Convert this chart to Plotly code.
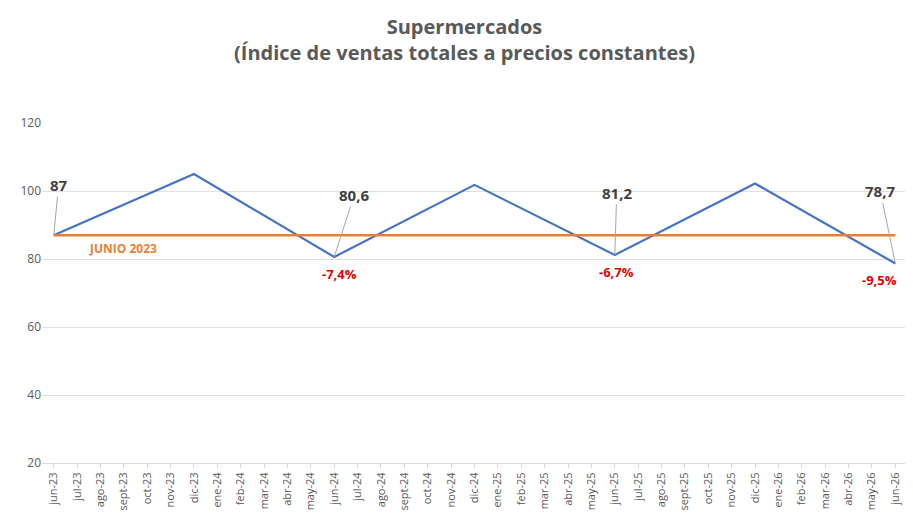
import plotly.graph_objects as go

MONTHS = ["ene", "feb", "mar", "abr", "may", "jun", "jul", "ago", "sept", "oct", "nov", "dic"]
categories = []
for year in [23, 24, 25, 26]:
    for m in MONTHS:
        categories.append(f"{m}-{year}")
categories = categories[5:categories.index("jun-26") + 1]

# observed vertices of the index series (straight segments between them)
vertex_months = ["jun-23", "dic-23", "jun-24", "dic-24", "jun-25", "dic-25", "jun-26"]
vertex_values = [87, 105, 80.6, 101.8, 81.2, 102.2, 78.7]
base_value = 87

label_months = ["jun-23", "jun-24", "jun-25", "jun-26"]
label_values = [87, 80.6, 81.2, 78.7]
label_texts = ["87", "80,6", "81,2", "78,7"]
label_offsets = [(5, -50), (20, -62), (2, -62), (-15, -72)]
change_months = ["jun-24", "jun-25", "jun-26"]
change_values = [80.6, 81.2, 78.7]
change_texts = ["-7,4%", "-6,7%", "-9,5%"]
change_xshift = [5, 2, -16]

vmap = dict(zip(vertex_months, vertex_values))
y_series = [vmap.get(c) for c in categories]

fig = go.Figure()
fig.add_trace(go.Scatter(x=categories, y=y_series, mode="lines", connectgaps=True,
                         line=dict(color="#4472C4", width=2.2), hoverinfo="skip"))
fig.add_trace(go.Scatter(x=categories, y=[base_value] * len(categories), mode="lines",
                         line=dict(color="#ED7D31", width=2.5), hoverinfo="skip"))

ann = []
for m, v, t, (ax, ay) in zip(label_months, label_values, label_texts, label_offsets):
    ann.append(dict(x=m, y=v, text=f"<b>{t}</b>", showarrow=True, arrowhead=0, arrowwidth=1,
                    arrowcolor="#A6A6A6", ax=ax, ay=ay, font=dict(size=15, color="#404040")))
for m, v, t, xs in zip(change_months, change_values, change_texts, change_xshift):
    ann.append(dict(x=m, y=v, text=f"<b>{t}</b>", showarrow=False, yshift=-17,
                    xshift=xs, font=dict(size=13, color="#E00000")))
ann.append(dict(x="jul-23", y=base_value, text="<b>JUNIO 2023</b>", showarrow=False,
                xanchor="left", xshift=10, yshift=-13, font=dict(size=12, color="#ED7D31")))

fig.update_layout(
    width=913, height=515, showlegend=False,
    paper_bgcolor="white", plot_bgcolor="white",
    font=dict(family="Open Sans", color="#595959"),
    title=dict(text="<b>Supermercados<br>(Índice de ventas totales a precios constantes)</b>",
               x=0.5, xanchor="center", y=0.95, font=dict(size=20, color="#595959")),
    margin=dict(l=32, r=14, t=115, b=57),
    annotations=ann,
    xaxis=dict(type="category", categoryorder="array", categoryarray=categories,
               tickangle=-90, tickfont=dict(size=11, color="#595959"),
               showgrid=False, showline=True, linecolor="#D9D9D9", ticks="outside",
               tickcolor="#D9D9D9", ticklen=4, range=[-0.5, len(categories) - 0.5]),
    yaxis=dict(range=[20, 120], dtick=20, showgrid=True, gridcolor="#E0E0E0",
               zeroline=False, tickfont=dict(size=12, color="#595959")),
)
fig.write_html("out.html")
